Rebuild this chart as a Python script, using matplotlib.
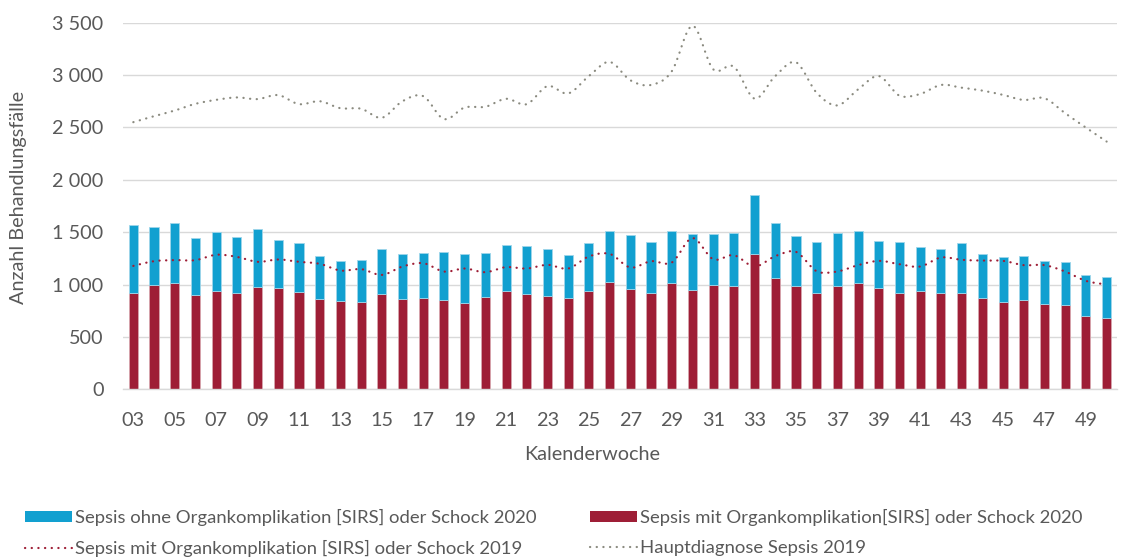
import numpy as np
import matplotlib
matplotlib.use("Agg")
import matplotlib.pyplot as plt
from matplotlib.path import Path
from matplotlib.patches import PathPatch, Patch
from matplotlib.lines import Line2D
from matplotlib.ticker import FuncFormatter

plt.rcParams["font.family"] = ["Lato", "DejaVu Sans"]

# --- Data ------------------------------------------------------------
weeks = [f"{w:02d}" for w in range(3, 51)]

# Sepsis mit Organkomplikation [SIRS] oder Schock 2020 (red bars)
mit_2020 = [924, 991, 1010, 901, 939, 924, 981, 971, 933, 866,
            847, 831, 914, 863, 876, 857, 825, 879, 936, 914,
            895, 876, 940, 1029, 962, 924, 1010, 952, 991, 984,
            1287, 1067, 984, 924, 987, 1010, 971, 924, 936, 924,
            924, 876, 838, 857, 819, 809, 704, 685]

# Sepsis ohne Organkomplikation [SIRS] oder Schock 2020 (blue, stacked)
ohne_2020 = [640, 557, 579, 542, 561, 528, 548, 456, 465, 405,
             373, 405, 421, 430, 427, 452, 471, 420, 437, 452,
             443, 408, 452, 484, 513, 481, 500, 535, 490, 510,
             564, 516, 478, 481, 504, 500, 440, 481, 424, 411,
             474, 411, 423, 411, 407, 405, 385, 388]

# Sepsis mit Organkomplikation [SIRS] oder Schock 2019 (red dotted)
mit_2019 = [1178, 1223, 1233, 1233, 1284, 1264, 1217, 1239, 1217, 1198,
            1134, 1147, 1092, 1172, 1204, 1124, 1153, 1118, 1166, 1153,
            1188, 1153, 1268, 1293, 1163, 1223, 1210, 1443, 1242, 1280,
            1172, 1271, 1312, 1127, 1125, 1185, 1226, 1194, 1172, 1258,
            1236, 1229, 1226, 1185, 1185, 1124, 1035, 1000]

# Hauptdiagnose Sepsis 2019 (grey dotted)
haupt_2019 = [2550, 2607, 2661, 2725, 2763, 2786, 2770, 2808, 2722, 2750,
              2683, 2678, 2592, 2750, 2798, 2580, 2690, 2697, 2773, 2722,
              2894, 2824, 2990, 3125, 2950, 2905, 3035, 3470, 3055, 3080,
              2775, 2990, 3121, 2830, 2710, 2863, 2990, 2803, 2819, 2905,
              2879, 2851, 2810, 2762, 2778, 2635, 2498, 2365]

BLUE = "#12a0d0"
RED = "#9e1e36"
GREY = "#8b8b80"
TEXT = "#595959"
GRID = "#d9d9d9"


def smooth_path(x, y):
    """Excel-like smoothed line as a cubic Bezier path through the points."""
    pts = np.column_stack([x, y]).astype(float)
    n = len(pts)
    verts = [pts[0]]
    codes = [Path.MOVETO]
    for i in range(n - 1):
        p0 = pts[max(i - 1, 0)]
        p1 = pts[i]
        p2 = pts[i + 1]
        p3 = pts[min(i + 2, n - 1)]
        verts += [p1 + (p2 - p0) / 6, p2 - (p3 - p1) / 6, p2]
        codes += [Path.CURVE4] * 3
    return Path(verts, codes)


def main():
    x = np.arange(len(weeks))
    fig = plt.figure(figsize=(11.22, 5.6), dpi=100)
    ax = fig.add_axes([0.1096, 0.3048, 0.8859, 0.6548])

    bw = 0.44
    ax.bar(x, mit_2020, width=bw, color=RED, edgecolor="#d7a5ae",
           linewidth=0.6, zorder=2)
    ax.bar(x, ohne_2020, width=bw, bottom=mit_2020, color=BLUE,
           edgecolor="#9fd6ea", linewidth=0.6, zorder=2)

    dots = (0, (0.1, 2.9))
    for vals, col in [(mit_2019, RED), (haupt_2019, GREY)]:
        ax.add_patch(PathPatch(smooth_path(x, vals), fill=False,
                               edgecolor=col, linewidth=1.6,
                               linestyle=dots, capstyle="round", zorder=3))

    ax.set_xlim(-0.5, len(weeks) - 0.5)
    ax.set_ylim(0, 3500)
    ax.set_yticks(np.arange(0, 3501, 500))
    ax.yaxis.set_major_formatter(
        FuncFormatter(lambda v, _: f"{v:,.0f}".replace(",", " ")))
    ax.set_xticks(x[::2])
    ax.set_xticklabels(weeks[::2])

    ax.grid(axis="y", color=GRID, linewidth=1.0, zorder=0)
    ax.set_axisbelow(True)
    for side in ["top", "right", "left"]:
        ax.spines[side].set_visible(False)
    ax.spines["bottom"].set_color(GRID)
    ax.spines["bottom"].set_linewidth(1.0)
    ax.tick_params(axis="both", length=0, labelsize=14.3, colors=TEXT)
    ax.tick_params(axis="y", pad=14)
    ax.tick_params(axis="x", pad=16)

    fig.text(592 / 1122, 1 - 455 / 560, "Kalenderwoche", ha="center",
             va="center", fontsize=14.3, color=TEXT)
    fig.text(19 / 1122, 1 - 197 / 560, "Anzahl Behandlungsfälle",
             ha="center", va="center", rotation=90, fontsize=14.3,
             color=TEXT)

    handles = [
        Patch(facecolor=BLUE),
        Line2D([], [], color=RED, linewidth=1.6, linestyle=dots,
               dash_capstyle="round"),
        Patch(facecolor=RED),
        Line2D([], [], color=GREY, linewidth=1.6, linestyle=dots,
               dash_capstyle="round"),
    ]
    labels = [
        "Sepsis ohne Organkomplikation [SIRS] oder Schock 2020",
        "Sepsis mit Organkomplikation [SIRS] oder Schock 2019",
        "Sepsis mit Organkomplikation[SIRS] oder Schock 2020",
        "Hauptdiagnose Sepsis 2019",
    ]
    leg = fig.legend(handles, labels, ncol=2, loc="center left",
                     bbox_to_anchor=(25 / 1122, 1 - 533 / 560),
                     frameon=False, fontsize=13.3, handlelength=2.55,
                     handleheight=0.6, handletextpad=0.15,
                     columnspacing=2.9, labelspacing=0.75,
                     borderpad=0, borderaxespad=0)
    for t in leg.get_texts():
        t.set_color(TEXT)

    fig.savefig("out.png", dpi=100)


if __name__ == "__main__":
    main()
